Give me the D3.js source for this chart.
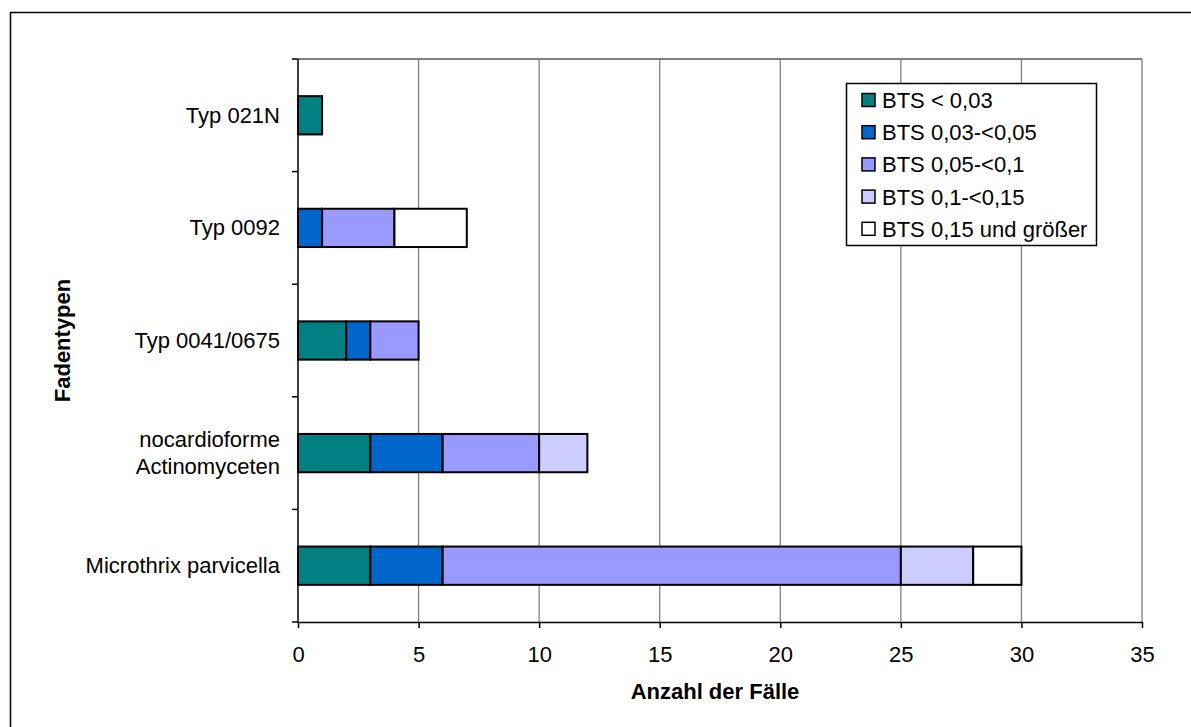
<!DOCTYPE html>
<html>
<head>
<meta charset="utf-8">
<script src="https://cdn.jsdelivr.net/npm/d3@7"></script>
<style>
  body { margin: 0; background: #fff; }
</style>
</head>
<body>
<div id="chart"></div>
<script>
// Data: filament types and counts per BTS class
const categories = ['Typ 021N', 'Typ 0092', 'Typ 0041/0675', 'nocardioforme\nActinomyceten', 'Microthrix parvicella'];
const classes = ['BTS < 0,03', 'BTS 0,03-<0,05', 'BTS 0,05-<0,1', 'BTS 0,1-<0,15', 'BTS 0,15 und größer'];
const colors = ['#008080', '#0066CC', '#9999FF', '#CCCCFF', '#FFFFFF'];
const bts003 = [1, 0, 2, 3, 3];
const bts005 = [0, 1, 1, 3, 3];
const bts01 = [0, 3, 2, 4, 19];
const bts015 = [0, 0, 0, 2, 3];
const btsGreater = [0, 3, 0, 0, 2];
const xTicks = [0, 5, 10, 15, 20, 25, 30, 35];

const width = 1191;
const height = 727;
const font = 'Liberation Sans, Arial, sans-serif';
const fs = '22px';

const svg = d3.select('#chart')
    .append('svg')
    .attr('width', width)
    .attr('height', height);

// outer chart border (right and bottom edges fall outside the picture)
svg.append('rect')
    .attr('x', 10.5).attr('y', 12.5)
    .attr('width', 1200).attr('height', 800)
    .attr('fill', 'none')
    .attr('stroke', '#000')
    .attr('stroke-width', 1.5);

const plot = { left: 298, right: 1142, top: 59, bottom: 622 };

const x = d3.scaleLinear()
    .domain([0, 35])
    .range([plot.left, plot.right]);

const y = d3.scaleBand()
    .domain(categories)
    .range([plot.top, plot.bottom])
    .paddingInner(0.66)
    .paddingOuter(0.33);

// gridlines
svg.append('g')
    .selectAll('line')
    .data(xTicks.filter(d => d > 0))
    .join('line')
    .attr('x1', d => x(d)).attr('x2', d => x(d))
    .attr('y1', plot.top).attr('y2', plot.bottom)
    .attr('stroke', '#808080')
    .attr('stroke-width', 1.3);

// top border of plot area
svg.append('line')
    .attr('x1', plot.left).attr('x2', plot.right)
    .attr('y1', plot.top).attr('y2', plot.top)
    .attr('stroke', '#808080')
    .attr('stroke-width', 2);

// stacked bars
const rows = categories.map((c, i) => ({
    cat: c,
    0: bts003[i], 1: bts005[i], 2: bts01[i], 3: bts015[i], 4: btsGreater[i]
}));
const stack = d3.stack().keys([0, 1, 2, 3, 4]);
const series = stack(rows);

series.forEach((s, k) => {
    svg.append('g')
        .selectAll('rect')
        .data(s.filter(d => d[1] > d[0]))
        .join('rect')
        .attr('x', d => x(d[0]))
        .attr('y', d => y(d.data.cat))
        .attr('width', d => x(d[1]) - x(d[0]))
        .attr('height', y.bandwidth())
        .attr('fill', colors[k])
        .attr('stroke', '#000')
        .attr('stroke-width', 2);
});

// x axis
const xAxis = svg.append('g')
    .attr('transform', `translate(0,${plot.bottom})`)
    .call(d3.axisBottom(x).tickValues(xTicks).tickSize(6).tickSizeOuter(0).tickPadding(18));
xAxis.select('.domain').attr('stroke', '#000').attr('stroke-width', 1.5);
xAxis.selectAll('.tick line').attr('stroke', '#000').attr('stroke-width', 1.5);
xAxis.selectAll('.tick text')
    .attr('font-family', font)
    .attr('font-size', fs)
    .attr('fill', '#000');

// y axis: ticks on category boundaries
const boundaries = d3.range(categories.length + 1).map(i => plot.top + i * y.step());
svg.append('line')
    .attr('x1', plot.left).attr('x2', plot.left)
    .attr('y1', plot.top).attr('y2', plot.bottom)
    .attr('stroke', '#000')
    .attr('stroke-width', 1.5);
svg.append('g')
    .selectAll('line')
    .data(boundaries)
    .join('line')
    .attr('x1', plot.left - 6).attr('x2', plot.left)
    .attr('y1', d => d).attr('y2', d => d)
    .attr('stroke', '#000')
    .attr('stroke-width', 1.5);

// category labels
categories.forEach(c => {
    const lines = c.split('\n');
    const cy = y(c) + y.bandwidth() / 2;
    const lh = 27;
    const t = svg.append('text')
        .attr('text-anchor', 'end')
        .attr('font-family', font)
        .attr('font-size', fs)
        .attr('fill', '#000');
    lines.forEach((l, i) => {
        t.append('tspan')
            .attr('x', 280)
            .attr('y', cy + 7.5 + (i - (lines.length - 1) / 2) * lh)
            .text(l);
    });
});

// axis titles
svg.append('text')
    .attr('x', 715)
    .attr('y', 699)
    .attr('text-anchor', 'middle')
    .attr('font-family', font)
    .attr('font-size', fs)
    .attr('font-weight', 'bold')
    .text('Anzahl der Fälle');

svg.append('text')
    .attr('transform', `translate(70,${(plot.top + plot.bottom) / 2}) rotate(-90)`)
    .attr('text-anchor', 'middle')
    .attr('font-family', font)
    .attr('font-size', fs)
    .attr('font-weight', 'bold')
    .text('Fadentypen');

// legend
const legend = svg.append('g');
legend.append('rect')
    .attr('x', 846.5).attr('y', 83.5)
    .attr('width', 250).attr('height', 162)
    .attr('fill', '#fff')
    .attr('stroke', '#000')
    .attr('stroke-width', 1.5);

classes.forEach((c, i) => {
    const cy = 100 + i * 32.2;
    legend.append('rect')
        .attr('x', 862).attr('y', cy - 6.5)
        .attr('width', 13).attr('height', 13)
        .attr('fill', colors[i])
        .attr('stroke', '#000')
        .attr('stroke-width', 1.5);
    legend.append('text')
        .attr('x', 882)
        .attr('y', cy + 8)
        .attr('font-family', font)
        .attr('font-size', fs)
        .attr('fill', '#000')
        .text(c);
});
</script>
</body>
</html>
